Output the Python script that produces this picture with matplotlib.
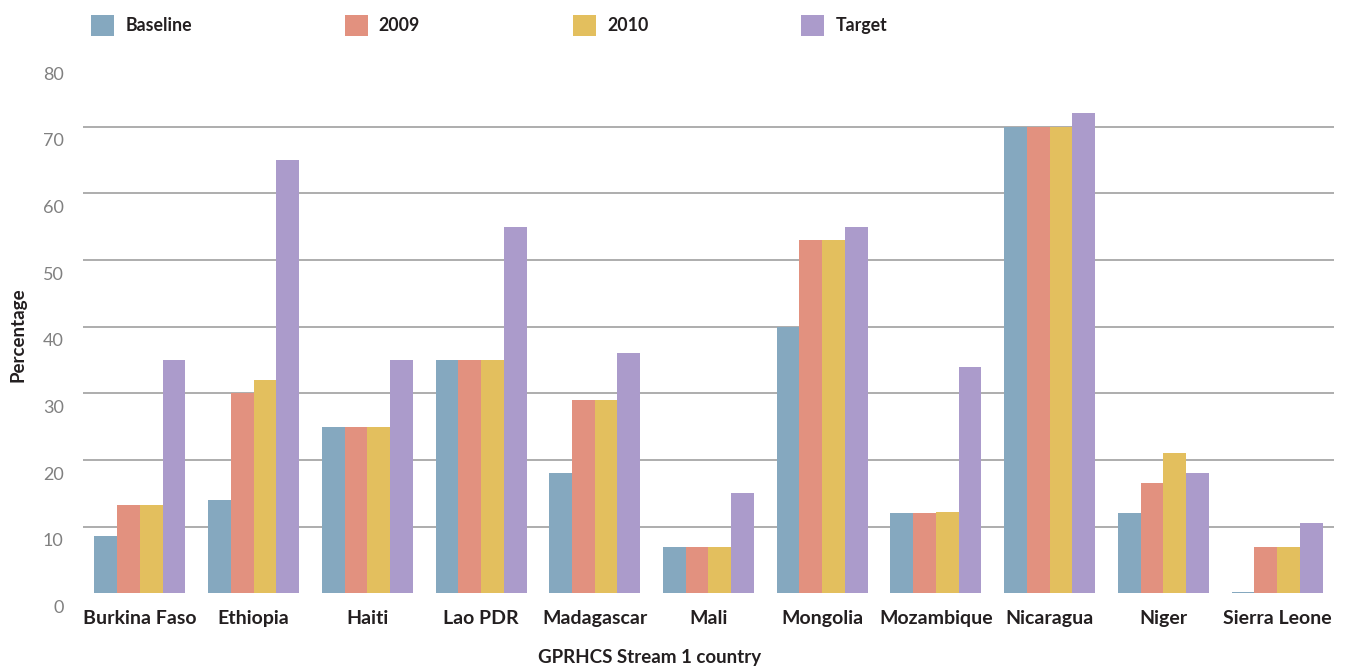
import numpy as np
import matplotlib.pyplot as plt
from matplotlib.transforms import ScaledTranslation

# data
countries = ['Burkina Faso', 'Ethiopia', 'Haiti', 'Lao PDR', 'Madagascar', 'Mali',
             'Mongolia', 'Mozambique', 'Nicaragua', 'Niger', 'Sierra Leone']
baseline = [8.6, 14, 25, 35, 18, 7, 40, 12, 70, 12, 0.15]
y2009 = [13.3, 30, 25, 35, 29, 7, 53, 12, 70, 16.6, 7]
y2010 = [13.3, 32, 25, 35, 29, 7, 53, 12.2, 70, 21, 7]
target = [35, 65, 35, 55, 36, 15, 55, 34, 72, 18, 10.6]

series = [('Baseline', baseline, '#85a8bf'),
          ('2009', y2009, '#e2917f'),
          ('2010', y2010, '#e3bf5e'),
          ('Target', target, '#ab9bcb')]

plt.rcParams['font.family'] = ['Lato', 'DejaVu Sans']

fig = plt.figure(figsize=(13.46, 6.68), dpi=100)
ax = fig.add_axes([0.0617, 0.1117, 0.9293, 0.7983])

x = np.arange(len(countries))
w = 0.2
for i, (name, vals, col) in enumerate(series):
    ax.bar(x + (i - 1.5) * w, vals, width=w, color=col, label=name, zorder=3)

ax.set_xlim(-0.5, 10.5)
ax.set_ylim(0, 80)
ax.set_yticks(range(0, 90, 10))
for yv in range(10, 80, 10):
    ax.axhline(yv, color='#a0a0a0', linewidth=1.2, zorder=1)

for s in ax.spines.values():
    s.set_visible(False)
ax.tick_params(axis='both', length=0)
ax.tick_params(axis='y', labelsize=13, labelcolor='#808080', pad=14)
ax.set_xticks(x)
ax.set_xticklabels(countries, fontsize=14, fontweight='bold', color='#231f20')
ax.tick_params(axis='x', pad=12)

# shift y tick labels below their gridlines
off = ScaledTranslation(0, -0.13, fig.dpi_scale_trans)
for lab in ax.get_yticklabels():
    lab.set_transform(lab.get_transform() + off)

fig.text(18 / 1346, 1 - 335 / 668, 'Percentage', rotation=90, ha='center', va='center',
         fontsize=13.5, fontweight='bold', color='#231f20')
fig.text(650 / 1346, 1 - 657 / 668, 'GPRHCS Stream 1 country', ha='center', va='center',
         fontsize=13.5, fontweight='bold', color='#231f20')

leg = fig.legend(loc='upper left', bbox_to_anchor=(91 / 1346, 1 - 15 / 668), ncol=4,
                 frameon=False, borderpad=0.0,
                 handlelength=1.3, handleheight=1.4, handletextpad=0.62,
                 columnspacing=8.6, borderaxespad=0.0,
                 prop={'weight': 'bold', 'size': 12.8})
for t in leg.get_texts():
    t.set_color('#231f20')

fig.savefig('out.png', dpi=100)
